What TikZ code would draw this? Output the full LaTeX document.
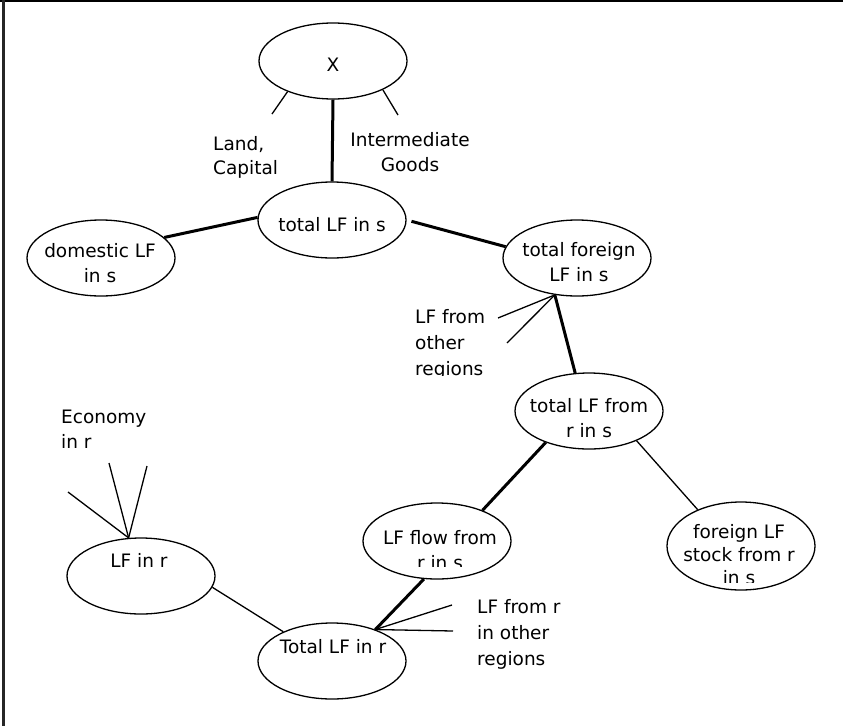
\documentclass[tikz,border=0pt]{standalone}
\usepackage{fontspec}
\setmainfont{DejaVu Sans}
\usetikzlibrary{shapes.geometric}
\begin{document}
\begin{tikzpicture}[x=1pt,y=-1pt,
  oval/.style={draw, ellipse, line width=1.3pt, minimum width=148pt, minimum height=76pt, inner sep=0pt},
  lbl/.style={font=\fontsize{18.5}{25}\selectfont, inner sep=0pt, anchor=base, align=center},
  lbll/.style={lbl, align=left, anchor=base west},
  strong/.style={line width=3pt},
  weak/.style={line width=1.3pt}]
\useasboundingbox (0,0) rectangle (843,726);
% frame (top and left only)
\draw[line width=2pt] (0,1) -- (843,1);
\draw[line width=3pt, black!85] (3.3,0) -- (3.3,726);

% ellipses
\node[oval] (X) at (333,61) {};
\node[oval] (tot) at (332,220) {};
\node[oval] (dom) at (101,258) {};
\node[oval] (forn) at (577,258) {};
\node[oval] (tfrom) at (589,411) {};
\node[oval] (flow) at (437,541) {};
\node[oval, minimum height=88pt] (stock) at (741,546) {};
\node[oval] (lfr) at (141,576) {};
\node[oval] (tlfr) at (332,661) {};

% texts inside ellipses (anchor = baseline of last line)
\node[lbl] (LX) at (333,71) {X};
\node[lbl] (Ltot) at (332,231) {total LF in s};
\node[lbl] (Ldom) at (100,282) {domestic LF\\in s};
\node[lbl] (Lforn) at (579,281) {total foreign\\LF in s};
\node[lbl] (Ltfrom) at (589,437) {total LF from\\r in s};
\begin{scope}
\clip (360,500) rectangle (520,566);
\node[lbl] (Lflow) at (440,569) {LF flow from\\r in s};
\end{scope}
\begin{scope}
\clip (660,500) rectangle (820,582);
\node[lbl, font=\fontsize{18.5}{23}\selectfont] (Lstock) at (739,584) {foreign LF\\stock from r\\in s};
\end{scope}
\node[lbl] (Llfr) at (139,567) {LF in r};
\node[lbl] (Ltlfr) at (333,653) {Total LF in r};

% free labels
\node[lbll, font=\fontsize{18.5}{24}\selectfont] (land) at (213,174) {Land,\\Capital};
\node[lbl] (inter) at (410,171) {Intermediate\\Goods};
\begin{scope}
\clip (400,300) rectangle (540,375);
\node[lbll, font=\fontsize{18.5}{26}\selectfont] (other) at (415,375) {LF from\\other\\regions};
\end{scope}
\node[lbll] (econ) at (61,448) {Economy\\in r};
\node[lbll, font=\fontsize{18.5}{26}\selectfont] (lfrother) at (477,665) {LF from r\\in other\\regions};

% free ends
\coordinate (c1) at (272,114);
\coordinate (c2) at (398,115);
\coordinate (c3) at (498,318);
\coordinate (c4) at (507,343);
\coordinate (c5) at (68,492);
\coordinate (c6) at (109,463);
\coordinate (c7) at (147,466);
\coordinate (c8) at (452,605);
\coordinate (c9) at (453,631);

% connectors
\draw[strong] (X.south) -- (tot.north);
\draw[weak] (X.214) -- (c1);
\draw[weak] (X.-30) -- (c2);
\draw[strong] (dom.18) -- (tot.178);
\draw[strong, shorten <=5pt] (tot.0) -- (forn.171);
\draw[strong] (forn.-121) -- (tfrom.110);
\draw[weak] (forn.-121) -- (c3);
\draw[weak] (forn.-121) -- (c4);
\draw[strong] (tfrom.216) -- (flow.34);
\draw[weak] (tfrom.-32) -- (stock.140);
\draw[strong] (flow.-109) -- (tlfr.36);
\draw[weak] (tlfr.36) -- (c8);
\draw[weak] (tlfr.36) -- (c9);
\draw[weak] (lfr.-9) -- (tlfr.149);
\draw[weak] (lfr.108) -- (c5);
\draw[weak] (lfr.108) -- (c6);
\draw[weak] (lfr.108) -- (c7);
\end{tikzpicture}
\end{document}
